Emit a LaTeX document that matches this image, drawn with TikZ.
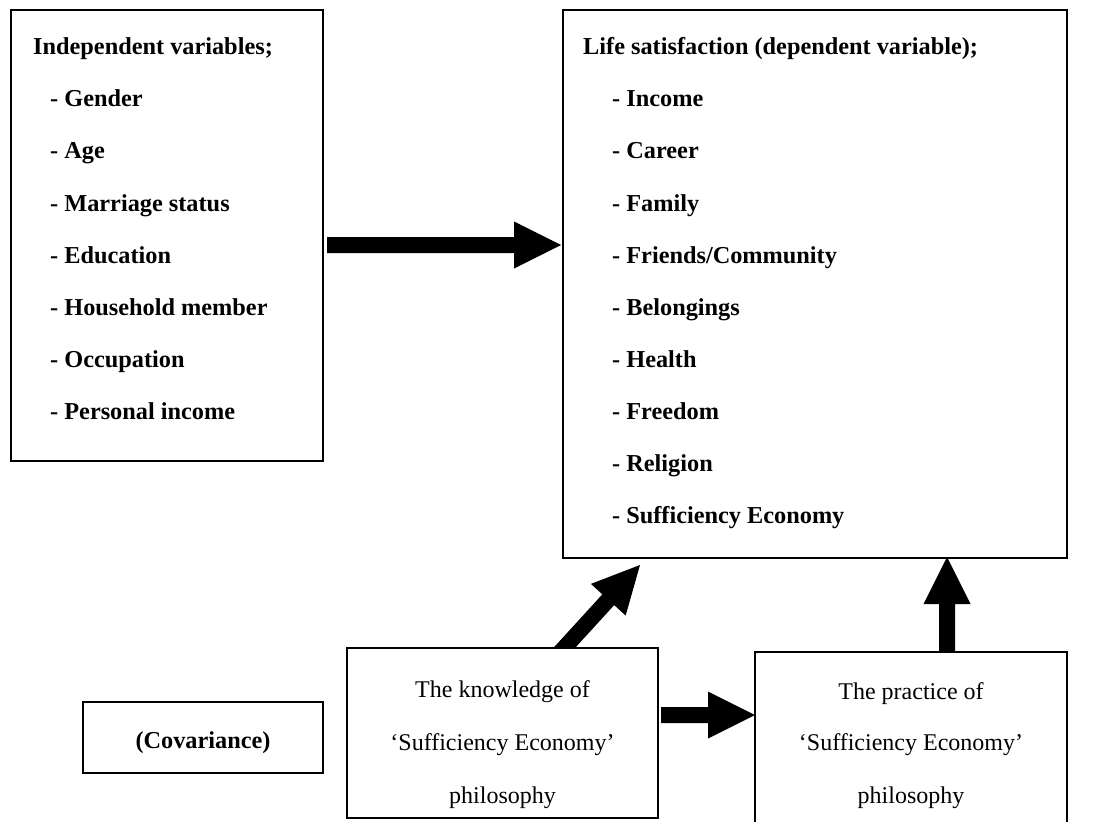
\documentclass[tikz,border=0pt]{standalone}
\usepackage{fontspec}
\setmainfont{Liberation Serif}
\usetikzlibrary{calc}
\tikzset{
  boxn/.style={draw=black, line width=1.5pt, fill=white, anchor=north west, inner sep=0pt, outer sep=0pt},
  bline/.style={anchor=base west, inner sep=0pt, font=\fontsize{24.3}{28}\selectfont\bfseries},
  cbline/.style={anchor=base, inner sep=0pt, font=\fontsize{24.3}{28}\selectfont\bfseries},
  cline/.style={anchor=base, inner sep=0pt, font=\fontsize{24}{28}\selectfont},
  fatarrow/.style={to path={let \p1=($(\tikztotarget)-(\tikztostart)$), \n1={atan2(\y1,\x1)}, \n2={veclen(\x1,\y1)} in
    -- ++(\n1+90:8pt) -- ++(\n1:{\n2-47pt}) -- ++(\n1+90:15.5pt) -- (\tikztotarget)
    -- ++(\n1+206.565:52.548pt) -- ++(\n1+90:15.5pt) -- ++(\n1+180:{\n2-47pt}) -- cycle}}
}
\begin{document}
\begin{tikzpicture}[x=1pt,y=-1pt]
\useasboundingbox (0,0) rectangle (1107,821);
\clip (0,0) rectangle (1107,821);

% box outlines (named, used for connectors)
\path (11,10) node[boxn, minimum width=312pt, minimum height=451pt] (L) {};
\path (563,10) node[boxn, minimum width=504pt, minimum height=548pt] (R) {};
\path (347,648) node[boxn, minimum width=311pt, minimum height=170pt] (K) {};
\path (755,652) node[boxn, minimum width=312pt, minimum height=178pt] (P) {};
\path (83,702) node[boxn, minimum width=240pt, minimum height=71pt] (C) {};

% connector end points
\coordinate (ms) at ($(L.east |- 0,245)+(4,0)$);
\coordinate (me) at ($(R.west |- 0,245)+(-2,0)$);
\coordinate (ds) at ($(K.north west)+(208,10)$);
\coordinate (de) at ($(R.south west)+(77,7)$);
\coordinate (vs) at ($(P.north west)+(192,8)$);
\coordinate (ve) at ($(R.south west)+(384,-1)$);
\coordinate (hs) at ($(K.east |- 0,715)+(3,0)$);
\coordinate (he) at (P.west |- 0,715);

% arrows (drawn first, boxes redrawn over them)
\fill[black] (ms) to[fatarrow] (me);
\fill[black] (ds) to[fatarrow] (de);
\fill[black] (vs) to[fatarrow] (ve);
\fill[black] (hs) to[fatarrow] (he);

\path (347,648) node[boxn, minimum width=311pt, minimum height=170pt] (K2) {};
\path (755,652) node[boxn, minimum width=312pt, minimum height=178pt] (P2) {};

% left box text
\node[bline] (l0) at (33,55) {Independent variables;};
\node[bline] (l1) at (50,107) {- Gender};
\node[bline] (l2) at (50,159) {- Age};
\node[bline] (l3) at (50,211) {- Marriage status};
\node[bline] (l4) at (50,263) {- Education};
\node[bline] (l5) at (50,315) {- Household member};
\node[bline] (l6) at (50,367) {- Occupation};
\node[bline] (l7) at (50,419) {- Personal income};

% right box text
\node[bline] (r0) at (583,55) {Life satisfaction (dependent variable);};
\node[bline] (r1) at (612,107) {- Income};
\node[bline] (r2) at (612,159) {- Career};
\node[bline] (r3) at (612,211) {- Family};
\node[bline] (r4) at (612,263) {- Friends/Community};
\node[bline] (r5) at (612,315) {- Belongings};
\node[bline] (r6) at (612,367) {- Health};
\node[bline] (r7) at (612,419) {- Freedom};
\node[bline] (r8) at (612,471) {- Religion};
\node[bline] (r9) at (612,523) {- Sufficiency Economy};

% bottom boxes text
\node[cbline] (c0) at (C.center |- 0,748) {(Covariance)};
\node[cline] (k0) at (502.5,697.6) {The knowledge of};
\node[cline] (k1) at (502.5,750.6) {‘Sufficiency Economy’};
\node[cline] (k2) at (502.5,803.6) {philosophy};
\node[cline] (p0) at (911,699.6) {The practice of};
\node[cline] (p1) at (911,750.6) {‘Sufficiency Economy’};
\node[cline] (p2) at (911,803.6) {philosophy};
\end{tikzpicture}
\end{document}
